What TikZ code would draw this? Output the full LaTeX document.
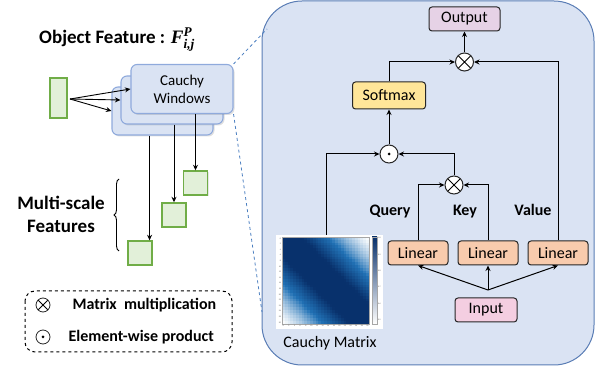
\documentclass[tikz,border=0pt]{standalone}
\usepackage{fontspec}
\setmainfont{Carlito}
\newfontfamily\mathserif{Liberation Serif}
\usepackage{amsmath}
\usepackage{xcolor}
\usepackage{tikz}
\usetikzlibrary{arrows.meta,shadows,decorations.pathreplacing}

\newcommand{\bfit}[1]{\text{\mathserif\bfseries\itshape #1}}

\definecolor{panelfill}{HTML}{DAE3F3}
\definecolor{panelline}{HTML}{5A7DB5}
\definecolor{winline}{HTML}{8FAADC}
\definecolor{featfill}{HTML}{E2F0D9}
\definecolor{featline}{HTML}{70AD47}
\definecolor{outfill}{HTML}{E6D2E6}
\definecolor{inpfill}{HTML}{F4CEE1}
\definecolor{softfill}{HTML}{FFE699}
\definecolor{linfill}{HTML}{F8CBAD}
\definecolor{cdark}{HTML}{08306B}
\definecolor{cmid}{HTML}{2171B5}
\definecolor{zoomline}{HTML}{4A7EC0}

\tikzset{
  box/.style={draw=black!85, line width=1pt, rounded corners=3pt, minimum height=24pt,
    inner sep=2pt, font=\fontsize{16}{16}\selectfont},
  arr/.style={-{Stealth[length=5.5pt,width=5pt]}, line width=1pt},
  opnode/.style={circle, draw=black!85, line width=1pt, fill=white, minimum size=18pt, inner sep=0pt},
  mulop/.style={opnode, path picture={
      \draw[black, line width=0.8pt] (path picture bounding box.north west) -- (path picture bounding box.south east)
        (path picture bounding box.south west) -- (path picture bounding box.north east);}},
  dotop/.style={opnode, path picture={\fill[black] (path picture bounding box.center) circle (1.5pt);}},
  window/.style={draw=winline, fill=panelfill, line width=1.1pt, rounded corners=6pt,
    drop shadow={opacity=0.25, shadow xshift=1.5pt, shadow yshift=-1.5pt}},
  featbox/.style={draw=featline, fill=featfill, line width=1.4pt,
    drop shadow={opacity=0.2, shadow xshift=1pt, shadow yshift=-1pt}},
  lbl/.style={font=\bfseries\fontsize{16}{16}\selectfont},
  tick/.style={font=\fontsize{2}{2}\selectfont, text=black!70, inner sep=0.4pt}
}

\begin{document}
\begin{tikzpicture}[x=1pt, y=-1pt]
  \useasboundingbox (0,0) rectangle (600,371);

  % Attention panel
  \draw[panelline, fill=panelfill, line width=1pt, rounded corners=40pt] (262,1) rectangle (594,365);

  % Left side: object feature and Cauchy windows
  \node[font=\bfseries\fontsize{19}{19}\selectfont] (title) at (117,40)
    {Object Feature : $\bfit{F}^{\bfit{P}}_{\bfit{i,j}}$};
  \node[featbox, minimum width=17pt, minimum height=40pt, inner sep=0pt] (feat) at (58.5,98) {};
  \node[window, minimum width=101pt, minimum height=48pt] (win1) at (162.5,111) {};
  \node[window, minimum width=102pt, minimum height=48pt] (win2) at (172,100) {};
  \node[window, minimum width=102pt, minimum height=49pt, align=center,
    font=\fontsize{15}{18}\selectfont] (win3) at (182,89) {Cauchy\\Windows};
  \coordinate (fsrc) at (70,99);
  \foreach \w in {win1,win2,win3}
    \draw[arr, line width=0.9pt] (fsrc) -- (\w.west);

  % Multi-scale features
  \node[featbox, minimum size=24pt, inner sep=0pt] (sq3) at (195.5,183) {};
  \node[featbox, minimum size=24pt, inner sep=0pt] (sq2) at (174,215) {};
  \node[featbox, minimum size=24pt, inner sep=0pt] (sq1) at (140,253) {};
  \draw[arr, line width=0.9pt] (win3.south -| sq3.north) -- (sq3.north);
  \draw[arr, line width=0.9pt] (win2.south -| sq2.north) -- (sq2.north);
  \draw[arr, line width=0.9pt] (win1.south -| sq1.53) -- (sq1.53);
  \draw[line width=0.9pt, decorate, decoration={brace, amplitude=5pt}] (119,251) -- (119,179);
  \node[align=center, font=\bfseries\fontsize{19}{23}\selectfont] (msf) at (61,214) {Multi-scale\\Features};

  % Zoom lines
  \coordinate (ztop) at (267,29);
  \coordinate (zbot) at (262,312);
  \draw[zoomline, dashed, line width=0.8pt] (win3.north east) -- (ztop);
  \draw[zoomline, dashed, line width=0.8pt] (win3.south east) -- (zbot);

  % Legend
  \draw[dashed, line width=1pt, rounded corners=10pt] (25,291) rectangle (232,352);
  \node[mulop, minimum size=14pt, line width=0.8pt] (lgmul) at (43,305) {};
  \node[dotop, minimum size=14pt, line width=0.8pt] (lgdot) at (43,337) {};
  \node[anchor=west, font=\bfseries\fontsize{16}{16}\selectfont] (lgmultxt) at (69,305) {Matrix~ multiplication};
  \node[anchor=west, font=\bfseries\fontsize{16}{16}\selectfont] (lgdottxt) at (65,337) {Element-wise product};

  % Cauchy matrix heatmap
  \fill[white] (276,235) rectangle (383,329);
  \foreach \i in {0,...,30} {
    \foreach \j in {0,...,30} {
      \pgfmathsetmacro{\v}{1/(1+(\i-\j)*(\i-\j)/400)}
      \pgfmathsetmacro{\p}{max(0,min(199,(\v-0.3)/0.6*200))}
      \ifdim\p pt<100pt
        \fill[cmid!\p!white] (282+\j*2.8,237+\i*2.8) rectangle ++(2.85,2.85);
      \else
        \pgfmathsetmacro{\q}{\p-100}
        \fill[cdark!\q!cmid] (282+\j*2.8,237+\i*2.8) rectangle ++(2.85,2.85);
      \fi
    }
  }
  \draw[black!35, line width=0.3pt] (282,237) rectangle (368.8,323.8);
  \shade[top color=cdark, middle color=cmid, bottom color=white] (372,237) rectangle (377,323.8);
  \draw[black!35, line width=0.3pt] (372,237) rectangle (377,323.8);
  \foreach \k [evaluate=\k as \n using int(2*\k)] in {0,...,15} {
    \node[tick, anchor=east] (yt\k) at (281.5,238.4+\k*5.6) {\n};
    \node[tick, anchor=north] (xt\k) at (283.4+\k*5.6,324.5) {\n};
  }
  \foreach \c [count=\k from 0] in {1.0,0.9,0.8,0.7,0.6,0.5}
    \node[tick, anchor=west] (cb\k) at (377.5,238+\k*16.4) {\c};
  \node[font=\fontsize{16}{16}\selectfont] (cmlabel) at (330,343) {Cauchy Matrix};
  \coordinate (cmtop) at (326,235);

  % Attention blocks
  \node[box, fill=outfill, minimum width=71pt] (out) at (464.5,19) {Output};
  \node[mulop] (mulT) at (464.5,62) {};
  \node[box, fill=softfill, minimum width=73pt, minimum height=27pt] (soft) at (389,95.5) {Softmax};
  \node[dotop] (dotp) at (389,154) {};
  \node[mulop] (mulB) at (454,185) {};
  \node[box, fill=linfill, minimum width=60pt] (linQ) at (418,253) {Linear};
  \node[box, fill=linfill, minimum width=60pt] (linK) at (488,253) {Linear};
  \node[box, fill=linfill, minimum width=60pt] (linV) at (558,253) {Linear};
  \node[box, fill=inpfill, minimum width=62pt] (inp) at (486,310) {Input};
  \coordinate (split) at (488,290);
  \node[lbl] (qlbl) at (390,212) {Query};
  \node[lbl] (klbl) at (465,212) {Key};
  \node[lbl] (vlbl) at (533,210) {Value};

  % Connections
  \draw[arr] (split) -- (linQ.south);
  \draw[arr] (split) -- (linK.south);
  \draw[arr] (split) -- (linV.south);
  \draw[arr] (linQ.north) |- (mulB.west);
  \draw[arr] (linK.north) |- (mulB.east);
  \draw[arr] (mulB.north) |- (dotp.east);
  \draw[arr] (cmtop) |- (dotp.west);
  \draw[arr] (dotp.north) -- (soft.south);
  \draw[arr] (soft.north) |- (mulT.west);
  \draw[arr] (linV.north) |- (mulT.east);
  \draw[arr] (mulT.north) -- (out.south);
\end{tikzpicture}
\end{document}
